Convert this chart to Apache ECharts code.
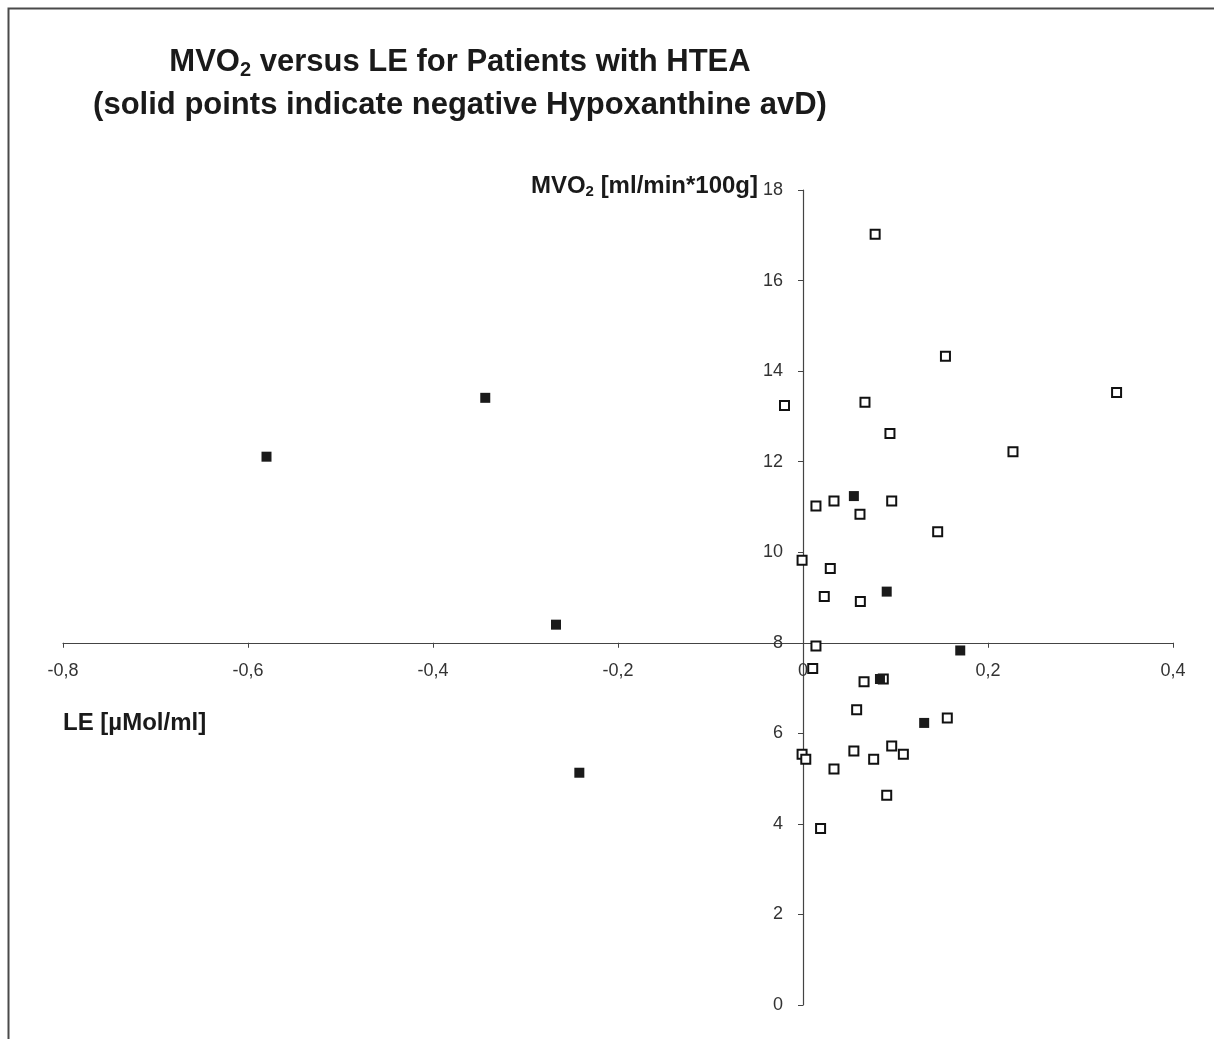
<!DOCTYPE html>
<html>
<head>
<meta charset="utf-8">
<script src="https://cdn.jsdelivr.net/npm/echarts@6/dist/echarts.min.js"></script>
<style>html,body{margin:0;padding:0;background:#fff}#c{width:1214px;height:1039px}</style>
</head>
<body>
<div id="c"></div>
<script>
// LE [µMol/ml], MVO2 [ml/min*100g]
const openPoints = [
  [0.078, 17.02], [0.154, 14.33], [-0.020, 13.24], [0.067, 13.31], [0.094, 12.62],
  [0.339, 13.53], [0.227, 12.22], [0.014, 11.02], [0.0335, 11.13], [0.0616, 10.84],
  [0.0959, 11.13], [0.1456, 10.45], [-0.001, 9.82], [0.0295, 9.64], [0.023, 9.02],
  [0.062, 8.91], [0.014, 7.93], [0.0105, 7.43], [0.066, 7.14], [0.0868, 7.20],
  [0.058, 6.52], [0.156, 6.34], [-0.001, 5.54], [0.003, 5.43], [0.0335, 5.21],
  [0.055, 5.61], [0.0764, 5.43], [0.0959, 5.72], [0.1085, 5.54], [0.0905, 4.63],
  [0.019, 3.90]
];
const solidPoints = [
  [-0.580, 12.11], [-0.3435, 13.41], [-0.267, 8.40], [-0.2418, 5.13],
  [0.055, 11.24], [0.0905, 9.13], [0.170, 7.83], [0.0832, 7.20], [0.131, 6.23]
];
const xTicks = [-0.8, 0.4, 0.2];   // min, max, interval
const yTicks = [0, 18, 2];         // min, max, interval
const xAxisCross = 8;              // x axis crosses MVO2 = 8
const yAxisCross = 0;              // y axis crosses LE = 0

const FONT = '"Liberation Sans", Arial, sans-serif';
const W = 1214, H = 1039;
const chart = echarts.init(document.getElementById('c'));
const gridTop = 190, gridBottom = 34, gridLeft = 63, gridRight = 41;
const plotH = H - gridTop - gridBottom;
const plotW = W - gridLeft - gridRight;
const xOffset = -plotH * (xAxisCross - yTicks[0]) / (yTicks[1] - yTicks[0]);
const yOffset = -plotW * (yAxisCross - xTicks[0]) / (xTicks[1] - xTicks[0]);

chart.setOption({
  backgroundColor: '#fff',
  animation: false,
  title: {
    text: 'MVO{sub|2} versus LE for Patients with HTEA\n(solid points indicate negative Hypoxanthine avD)',
    left: 455, top: 36, textAlign: 'center',
    textStyle: {
      fontFamily: FONT, fontSize: 31, fontWeight: 'bold', color: '#1a1a1a', lineHeight: 43,
      rich: { sub: { fontFamily: FONT, fontSize: 20, fontWeight: 'bold', color: '#1a1a1a', padding: [16, 0, 0, 0], lineHeight: 43 } }
    }
  },
  graphic: [{
    type: 'rect', silent: true,
    shape: { x: 8.5, y: 8.5, width: 1220, height: 1050 },
    style: { fill: null, stroke: '#4a4a4a', lineWidth: 2 }
  }],
  grid: { left: gridLeft, right: gridRight, top: gridTop, bottom: gridBottom, containLabel: false },
  xAxis: {
    type: 'value', min: xTicks[0], max: xTicks[1], interval: xTicks[2],
    offset: xOffset,
    axisLine: { onZero: false, lineStyle: { color: '#444', width: 1.2 } },
    axisTick: { show: true, length: 5, lineStyle: { color: '#444' } },
    splitLine: { show: false },
    axisLabel: { margin: 19, fontFamily: FONT, fontSize: 18, color: '#333',
      formatter: v => String(Math.round(v * 10) / 10).replace('.', ',') },
    name: 'LE [µMol/ml]', nameLocation: 'start', nameGap: 0, nameMoveOverlap: false,
    nameTextStyle: { fontFamily: FONT, fontSize: 24, fontWeight: 'bold', color: '#1a1a1a',
      align: 'left', verticalAlign: 'top', padding: [69, 0, 0, 0] }
  },
  yAxis: {
    type: 'value', min: yTicks[0], max: yTicks[1], interval: yTicks[2],
    offset: yOffset,
    axisLine: { onZero: false, lineStyle: { color: '#444', width: 1.2 } },
    axisTick: { show: true, length: 5, lineStyle: { color: '#444' } },
    splitLine: { show: false },
    axisLabel: { margin: 20, fontFamily: FONT, fontSize: 18, color: '#333' },
    name: 'MVO{sub|2} [ml/min*100g]', nameLocation: 'end', nameGap: 4, nameMoveOverlap: false,
    nameTextStyle: { fontFamily: FONT, fontSize: 24, fontWeight: 'bold', color: '#1a1a1a',
      align: 'right', verticalAlign: 'middle', padding: [0, 45, 0, 0],
      rich: { sub: { fontFamily: FONT, fontSize: 15, fontWeight: 'bold', color: '#1a1a1a', padding: [12, 0, 0, 0] } } }
  },
  series: [
    { type: 'scatter', name: 'positive', data: openPoints, symbol: 'rect', symbolSize: 9,
      itemStyle: { color: '#fff', borderColor: '#111', borderWidth: 2, opacity: 1 } },
    { type: 'scatter', name: 'negative', data: solidPoints, symbol: 'rect', symbolSize: 10,
      itemStyle: { color: '#1a1a1a', borderWidth: 0, opacity: 1 } }
  ]
});
</script>
</body>
</html>
